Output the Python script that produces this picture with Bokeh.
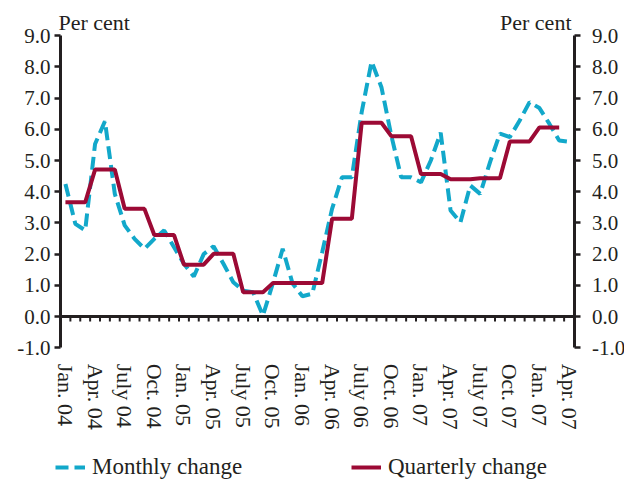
import numpy as np
from bokeh.plotting import figure
from bokeh.models import (Range1d, LinearAxis, FixedTicker, Label, Legend,
                          LegendItem, NumeralTickFormatter)
from bokeh.embed import file_html
from bokeh.resources import INLINE

# ---- data ----
tick_labels = ["Jan. 04", "Apr. 04", "July 04", "Oct. 04", "Jan. 05", "Apr. 05",
               "July 05", "Oct. 05", "Jan. 06", "Apr. 06", "July 06", "Oct. 06",
               "Jan. 07", "Apr. 07", "July 07", "Oct. 07", "Jan. 07", "Apr. 07"]

monthly_change = [4.25, 2.97, 2.76, 5.53, 6.26, 3.93, 2.92, 2.49, 2.17, 2.49,
                  2.76, 2.22, 1.69, 1.28, 2.00, 2.25, 1.69, 1.10, 0.83, 0.78,
                  0.03, 1.06, 2.17, 1.06, 0.65, 0.73, 2.06, 3.45, 4.46, 4.46,
                  6.55, 8.17, 7.35, 5.80, 4.46, 4.46, 4.30, 5.00, 5.89, 3.40,
                  3.02, 4.20, 3.93, 4.95, 5.86, 5.75, 6.28, 6.87, 6.68, 6.18,
                  5.64, 5.60]

quarterly_change = [3.66, 4.71, 3.45, 2.61, 1.66, 2.01, 0.78, 1.07, 1.07,
                    3.13, 6.21, 5.78, 4.57, 4.40, 4.43, 5.61, 6.06]

y_ticks = [-1, 0, 1, 2, 3, 4, 5, 6, 7, 8, 9]

# ---- derived ----
n_months = len(monthly_change)
month_idx = list(range(n_months))
q_idx = list(range(len(quarterly_change) * 3))
q_vals = list(np.repeat(quarterly_change, 3))
label_pos = month_idx[::3]
bounds_x = [i - 0.5 for i in range(n_months + 1)]   # month boundaries

FONT = "Liberation Serif"
TXT = "#231F20"
CYAN = "#12A8CA"
RED = "#9C0A35"

W, H = 624, 479
# pixel layout of the plotting area (the frame fills the whole canvas)
LEFT_PX, RIGHT_PX = 60.0, 573.5
ZERO_PX, PX_PER_UNIT = 316.0, 31.2
px_per_month = (RIGHT_PX - LEFT_PX) / n_months
x_start = bounds_x[0] - LEFT_PX / px_per_month
x_end = bounds_x[-1] + (W - RIGHT_PX) / px_per_month
y_end = ZERO_PX / PX_PER_UNIT
y_start = -(H - ZERO_PX) / PX_PER_UNIT
tick_len = 5 / PX_PER_UNIT

p = figure(width=W, height=H,
           x_range=Range1d(x_start, x_end), y_range=Range1d(y_start, y_end),
           output_backend="svg", toolbar_location=None,
           x_axis_location=None, y_axis_location=None,
           min_border_left=0, min_border_right=0,
           min_border_top=0, min_border_bottom=0)
p.outline_line_color = None
p.grid.visible = False
p.background_fill_color = "white"
p.border_fill_color = "white"


def make_yaxis(loc, standoff):
    ax = LinearAxis(ticker=FixedTicker(ticks=y_ticks),
                    formatter=NumeralTickFormatter(format="0.0"),
                    fixed_location=loc, bounds=(y_ticks[0], y_ticks[-1]))
    ax.axis_line_width = 3
    ax.axis_line_color = TXT
    ax.major_tick_line_width = 2.5
    ax.major_tick_line_color = TXT
    ax.major_tick_out = 6
    ax.major_tick_in = 0
    ax.minor_tick_line_color = None
    ax.major_label_text_font = FONT
    ax.major_label_text_font_size = "21px"
    ax.major_label_text_color = TXT
    ax.major_label_standoff = standoff
    return ax


p.add_layout(make_yaxis(bounds_x[0], 4), "left")
p.add_layout(make_yaxis(bounds_x[-1], 12), "right")

# category labels under the bottom of the value axis
xlab = LinearAxis(ticker=FixedTicker(ticks=label_pos), fixed_location=y_ticks[0],
                  major_label_overrides={pos: lab for pos, lab in zip(label_pos, tick_labels)})
xlab.axis_line_color = None
xlab.major_tick_line_color = None
xlab.minor_tick_line_color = None
xlab.major_tick_out = 0
xlab.major_tick_in = 0
xlab.major_label_orientation = "vertical"
xlab.major_label_standoff = 16
xlab.major_label_text_font = FONT
xlab.major_label_text_font_size = "22px"
xlab.major_label_text_color = TXT
p.add_layout(xlab, "below")

# zero line with a tick mark at every month boundary
p.segment(x0=bounds_x, y0=0, x1=bounds_x, y1=-tick_len,
          line_color=TXT, line_width=2)
p.segment(x0=bounds_x[0], y0=0, x1=bounds_x[-1], y1=0,
          line_color=TXT, line_width=3)

r_m = p.line(month_idx, monthly_change, line_color=CYAN, line_width=4,
             line_dash="13 6")
r_q = p.line(q_idx, q_vals, line_color=RED, line_width=4)

for x, align in [(58, "left"), (571, "right")]:
    p.add_layout(Label(x=x, y=H - 22, x_units="screen", y_units="screen",
                       text="Per cent", text_font=FONT, text_font_size="22px",
                       text_color=TXT, text_align=align,
                       text_baseline="alphabetic"))


def make_legend(label, renderer, x):
    lg = Legend(items=[LegendItem(label=label, renderers=[renderer])],
                location=(x, -1))
    lg.border_line_color = None
    lg.background_fill_alpha = 0
    lg.padding = 0
    lg.margin = 0
    lg.glyph_width = 30
    lg.glyph_height = 20
    lg.label_height = 20
    lg.label_standoff = 7
    lg.label_text_font = FONT
    lg.label_text_font_size = "23px"
    lg.label_text_color = TXT
    return lg


p.add_layout(make_legend("Monthly change", r_m, 55))
p.add_layout(make_legend("Quarterly change", r_q, 351))

open("out.html", "w").write(file_html(p, INLINE))
